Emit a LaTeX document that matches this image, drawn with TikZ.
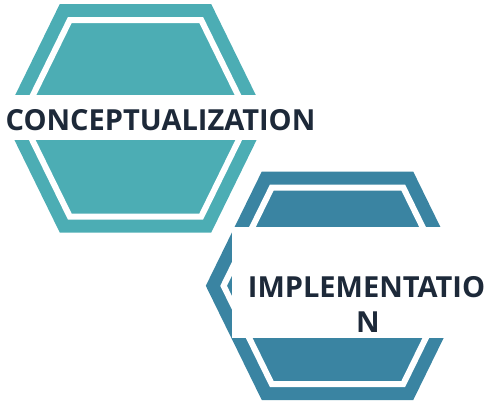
\documentclass[tikz,border=0pt]{standalone}
\usepackage{fontspec}
\setmainfont{Open Sans}
\definecolor{tealA}{HTML}{4CADB4}
\definecolor{blueB}{HTML}{3A84A2}
\definecolor{inkC}{HTML}{1D2939}
\tikzset{
  hexa/.pic={
    \path[pic actions] (-75.7,-114.3) -- (75.7,-114.3) -- (131.7,0) -- (75.7,114.3) -- (-75.7,114.3) -- (-131.7,0) -- cycle;
    \draw[white,line width=6pt] (-65.7,-98.3) -- (65.7,-98.3) -- (113.9,0) -- (65.7,98.3) -- (-65.7,98.3) -- (-113.9,0) -- cycle;
  },
  label/.style={font=\bfseries\fontsize{29}{35}\selectfont, text=inkC, inner sep=0pt, anchor=base},
  band/.style={fill=white}
}
\begin{document}
\begin{tikzpicture}[x=1pt,y=-1pt]
\useasboundingbox (0,0) rectangle (490,402);
% top hexagon
\pic[fill=tealA] (hexA) at (135.5,118.3) {hexa};
\fill[band] (0,95) rectangle (322,140);
\node[label] (concept) at (160.5,130) {CONCEPTUALIZATION};
% bottom hexagon
\pic[fill=blueB] (hexB) at (337.5,285.8) {hexa};
\fill[band] (231.7,226.7) rectangle (492,338.3);
\node[label] (impl1) at (366.5,297) {IMPLEMENTATIO};
\node[label] (impl2) at (368,332) {N};
\end{tikzpicture}
\end{document}
